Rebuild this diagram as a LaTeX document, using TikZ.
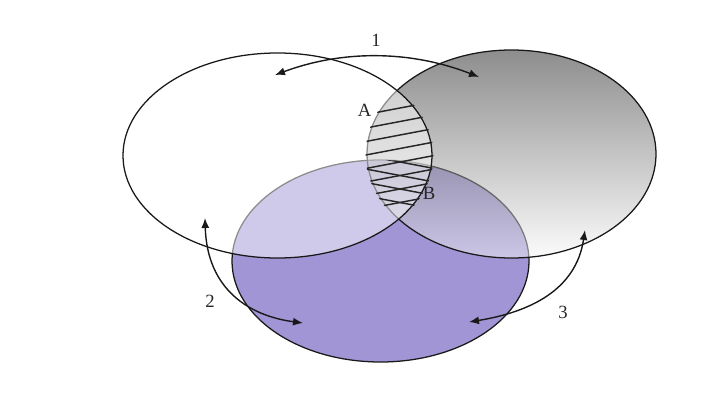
\documentclass[tikz,border=0pt]{standalone}
\usepackage{fontspec}
\setmainfont{Liberation Serif}
\usetikzlibrary{arrows.meta}
\definecolor{purplefill}{RGB}{161,149,213}
\definecolor{graytop}{RGB}{28,28,28}
\definecolor{graybot}{RGB}{248,248,248}
\begin{document}
\begin{tikzpicture}[x=0.75pt,y=-0.75pt,
  outline/.style={draw=black!90, line width=0.95pt},
  hatch/.style={draw=black!85, line width=1.1pt},
  conn/.style={{Latex[length=7.5pt,width=6pt]}-{Latex[length=7.5pt,width=6pt]}, line width=1.05pt, draw=black!90},
  lbl/.style={font=\fontsize{14}{16}\selectfont, inner sep=0pt, text=black!85}]
\useasboundingbox (0,0) rectangle (720,403);
\coordinate (cL) at (277.5,155.5);
\coordinate (cR) at (511.5,154);
\coordinate (cP) at (380.5,261);
% purple ellipse (bottom layer)
\fill[purplefill] (cP) ellipse [x radius=148.5, y radius=101];
\draw[outline] (cP) ellipse [x radius=148.5, y radius=101];
% right gray ellipse, translucent gradient
\shade[top color=graytop, bottom color=graybot, opacity=0.5] (cR) ellipse [x radius=144.5, y radius=104];
\draw[outline] (cR) ellipse [x radius=144.5, y radius=104];
% left ellipse, translucent white
\fill[white, fill opacity=0.5] (cL) ellipse [x radius=154.5, y radius=102.5];
\draw[outline] (cL) ellipse [x radius=154.5, y radius=102.5];
% hatching in the lens
\begin{scope}
  \clip (cL) ellipse [x radius=156, y radius=104];
  \clip (cR) ellipse [x radius=146, y radius=105.5];
  \foreach \c in {108,121.5,135,148.5,162,175.5,189,202.5}
    \draw[hatch] (360,\c+7.6) -- (440,\c-7.6);
  \clip (cP) ellipse [x radius=148.5, y radius=101];
  \foreach \c in {162,175.5,189,202.5}
    \draw[hatch] (360,\c-7.6) -- (440,\c+7.6);
\end{scope}
% arrows
\coordinate (a1s) at (275,75);
\coordinate (a1e) at (479,77);
\coordinate (a2s) at (205,218);
\coordinate (a2e) at (303,323);
\coordinate (a3s) at (585,230);
\coordinate (a3e) at (469,322);
\draw[conn] (a1s) .. controls (342,50) and (410,50) .. (a1e);
\draw[conn] (a2s) .. controls (207,290) and (250,316) .. (a2e);
\draw[conn] (a3s) .. controls (576,290) and (530,312) .. (a3e);
% labels
\node[lbl] (l1) at (376,40.5) {1};
\node[lbl] (lA) at (364.5,110.5) {A};
\node[lbl] (lB) at (429,193) {B};
\node[lbl] (l2) at (210,301.5) {2};
\node[lbl] (l3) at (563,312) {3};
\end{tikzpicture}
\end{document}
